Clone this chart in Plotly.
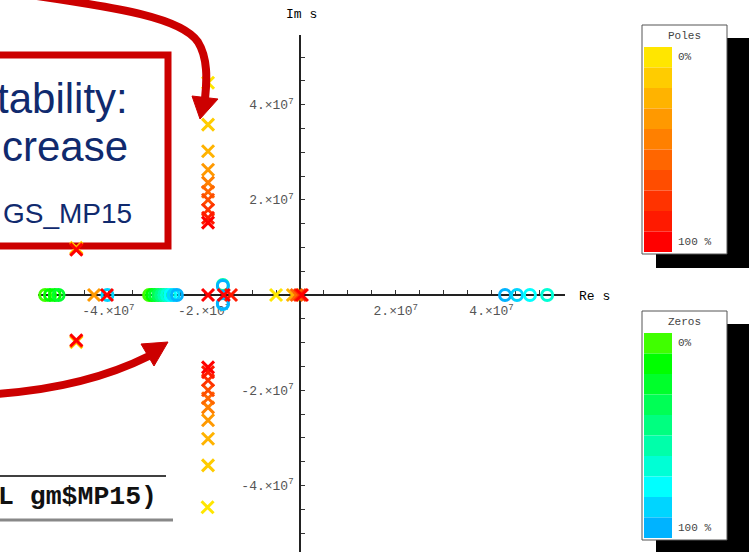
import plotly.graph_objects as go

# ---------------- data (values in units of s) ----------------
pole_re = [-1.92e7, -1.92e7, -1.92e7, -1.92e7, -1.92e7, -1.92e7, -1.92e7, -1.92e7, -1.92e7, -1.92e7,
           -1.93e7, -1.92e7, -1.92e7, -1.92e7, -1.92e7, -1.92e7, -1.92e7, -1.92e7, -1.92e7, -1.92e7,
           -4.67e7, -4.67e7, -4.67e7, -4.67e7, -4.67e7, -4.67e7,
           -4.30e7, -4.03e7, -1.92e7, -1.59e7, -1.44e7, -0.50e7, -0.15e7, -0.07e7, 0.0, 0.04e7]
pole_im = [4.46e7, 3.58e7, 3.02e7, 2.63e7, 2.36e7, 2.17e7, 2.00e7, 1.79e7, 1.62e7, 1.52e7,
           -4.46e7, -3.58e7, -3.02e7, -2.63e7, -2.36e7, -2.17e7, -2.00e7, -1.79e7, -1.62e7, -1.52e7,
           0.99e7, 0.97e7, 0.95e7, -0.99e7, -0.97e7, -0.95e7,
           0, 0, 0, 0, 0, 0, 0, 0, 0, 0]
pole_step = [0, 1, 2, 3, 4, 5, 6, 7, 8, 9,
             0, 1, 2, 3, 4, 5, 6, 7, 8, 9,
             0, 4, 9, 0, 4, 9,
             3, 9, 9, 9, 8, 0, 2, 5, 7, 9]

zero_re = [-5.32e7, -5.22e7, -5.12e7, -5.04e7,
           -3.15e7, -3.09e7, -3.03e7, -2.96e7, -2.90e7, -2.84e7, -2.78e7, -2.71e7, -2.64e7, -2.57e7,
           -4.02e7,
           -1.61e7, -1.61e7, -1.61e7, -1.61e7,
           4.28e7, 4.53e7, 4.80e7, 5.16e7]
zero_im = [0, 0, 0, 0,
           0, 0, 0, 0, 0, 0, 0, 0, 0, 0,
           0,
           0.21e7, 0.19e7, -0.19e7, -0.18e7,
           0, 0, 0, 0]
zero_step = [0, 1, 1, 2,
             0, 1, 2, 3, 4, 5, 6, 7, 8, 9,
             8,
             5, 9, 8, 9,
             9, 8, 7, 6]

pole_colors = ['#FFE600', '#FFCC00', '#FFB300', '#FF9900', '#FF8000',
               '#FF6600', '#FF4D00', '#FF3300', '#FF1A00', '#FF0000']
zero_colors = ['#40FF00', '#00FF00', '#00FF2B', '#00FF55', '#00FF80',
               '#00FFAA', '#00FFD5', '#00FFFF', '#00D5FF', '#00B3FF']

tick_labels = {2e7: '2.×10<sup>7</sup>', 4e7: '4.×10<sup>7</sup>',
               -2e7: '-2.×10<sup>7</sup>', -4e7: '-4.×10<sup>7</sup>'}
minor_ticks = [k * 0.5e7 for k in range(-10, 11) if k != 0]

# ---------------- geometry ----------------
W, H = 749, 552
X0, Y0 = 300, 295          # pixel position of the origin
KX, KY = 47.9e-7, 47.6e-7  # pixels per unit
def px(x): return x / W
def py(y): return 1 - y / H

MONO = 'Liberation Mono, Courier New, monospace'
SANS = 'Liberation Sans, Arial, sans-serif'

fig = go.Figure()

fig.add_trace(go.Scatter(
    x=zero_re, y=zero_im, mode='markers', cliponaxis=False, showlegend=False, hoverinfo='skip',
    marker=dict(symbol='circle-open', size=11, color=[zero_colors[s] for s in zero_step],
                line=dict(width=3))))

order = sorted(range(len(pole_re)), key=lambda i: pole_step[i])
fig.add_trace(go.Scatter(
    x=[pole_re[i] for i in order], y=[pole_im[i] for i in order], mode='markers',
    cliponaxis=False, showlegend=False, hoverinfo='skip',
    marker=dict(symbol='x-thin-open', size=12, color=[pole_colors[pole_step[i]] for i in order],
                line=dict(width=3))))

ticktext = [tick_labels.get(v, '') for v in minor_ticks]
axis_common = dict(showgrid=False, zeroline=False, showline=True, linecolor='#222222', linewidth=1.5,
                   ticks='inside', ticklen=4, tickwidth=1, tickcolor='#333333',
                   tickmode='array', tickvals=minor_ticks, ticktext=ticktext,
                   tickfont=dict(family=MONO, size=13, color='#555555'),
                   anchor='free', layer='below traces', fixedrange=True)

shapes = []
# red frame of the callout box
shapes.append(dict(type='rect', xref='paper', yref='paper', x0=px(-30), x1=px(168), y0=py(246), y1=py(55),
                   line=dict(color='#CC0000', width=7), layer='below'))
# top curved arrow
shapes.append(dict(type='path', xref='paper', yref='paper', layer='above',
                   path=f'M {px(30)},{py(-5)} C {px(120)},{py(8)} {px(182)},{py(18)} {px(198)},{py(42)} '
                        f'C {px(208)},{py(58)} {px(207)},{py(80)} {px(205)},{py(99)}',
                   line=dict(color='#CC0000', width=8)))
shapes.append(dict(type='path', xref='paper', yref='paper', layer='above',
                   path=f'M {px(192)},{py(96)} L {px(218)},{py(99)} L {px(200)},{py(119)} Z',
                   fillcolor='#CC0000', line=dict(color='#CC0000', width=1)))
# bottom curved arrow
shapes.append(dict(type='path', xref='paper', yref='paper', layer='above',
                   path=f'M {px(-5)},{py(394)} Q {px(85)},{py(388)} {px(149)},{py(356)}',
                   line=dict(color='#CC0000', width=8)))
shapes.append(dict(type='path', xref='paper', yref='paper', layer='above',
                   path=f'M {px(141)},{py(344)} L {px(168)},{py(342)} L {px(154)},{py(366)} Z',
                   fillcolor='#CC0000', line=dict(color='#CC0000', width=1)))
# lines around the code text
shapes.append(dict(type='line', xref='paper', yref='paper', x0=px(0), x1=px(166), y0=py(476), y1=py(476),
                   line=dict(color='#000000', width=1.5)))
shapes.append(dict(type='line', xref='paper', yref='paper', x0=px(0), x1=px(173), y0=py(520), y1=py(520),
                   line=dict(color='#888888', width=3)))

def note(text, x, y, xanchor, size, color, family):
    return dict(text=text, xref='paper', yref='paper', x=px(x), y=py(y), xanchor=xanchor,
                yanchor='middle', showarrow=False, font=dict(family=family, size=size, color=color))

annotations = [
    note('tability:', 130, 98, 'right', 42, '#102A6E', SANS),
    note('crease', 130, 147, 'right', 42, '#102A6E', SANS),
    note('GS_MP15', 134, 214, 'right', 28, '#102A6E', SANS),
    note('<b>L gm$MP15)</b>', 159, 497, 'right', 26.5, '#111111', MONO),
    note('Im s', 301, 14, 'center', 13, '#000000', MONO),
    note('Re s', 594, 296, 'center', 13, '#000000', MONO),
]

# legends (colour keys)
def key(title, colors, top):
    bx0, bx1 = 642, 727
    by0, by1 = top, top + 229
    shapes.append(dict(type='rect', xref='paper', yref='paper', x0=px(bx0 + 14), x1=px(W + 5),
                       y0=py(by1 + 14), y1=py(by0 + 13), fillcolor='#000000', line=dict(width=0),
                       layer='above'))
    shapes.append(dict(type='rect', xref='paper', yref='paper', x0=px(bx0), x1=px(bx1),
                       y0=py(by1), y1=py(by0), fillcolor='#FFFFFF', line=dict(color='#555555', width=1),
                       layer='above'))
    cy0 = by0 + 22
    step = 205 / len(colors)
    for i, c in enumerate(colors):
        shapes.append(dict(type='rect', xref='paper', yref='paper', x0=px(644), x1=px(672),
                           y0=py(cy0 + (i + 1) * step), y1=py(cy0 + i * step), fillcolor=c,
                           line=dict(width=0), layer='above'))
    annotations.append(note(title, 684, by0 + 11, 'center', 11, '#444444', MONO))
    annotations.append(note('0%', 676, cy0 + 10, 'left', 11, '#444444', MONO))
    annotations.append(note('100 %', 676, cy0 + 195, 'left', 11, '#444444', MONO))

key('Poles', pole_colors, 25)
key('Zeros', zero_colors, 311)

fig.update_layout(
    width=W, height=H, margin=dict(l=0, r=0, t=0, b=0), autosize=False,
    paper_bgcolor='#FFFFFF', plot_bgcolor='rgba(0,0,0,0)', showlegend=False,
    xaxis=dict(domain=[px(38), px(565)], range=[(38 - X0) / KX, (565 - X0) / KX],
               position=(H - Y0) / H, ticklabelstandoff=4, **axis_common),
    yaxis=dict(domain=[0, py(35)], range=[-(H - Y0) / KY, (Y0 - 35) / KY],
               position=X0 / W, ticklabelstandoff=3, **axis_common),
    shapes=shapes, annotations=annotations,
)

fig.write_html('out.html', config={'displayModeBar': False},
               post_script="document.body.style.margin='0px';")
